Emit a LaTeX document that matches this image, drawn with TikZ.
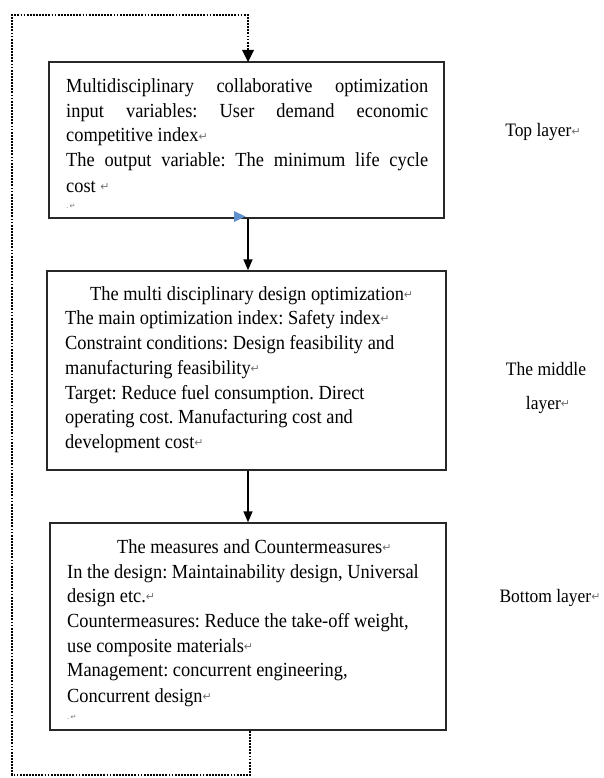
\documentclass[tikz,border=0pt]{standalone}
\usepackage{fontspec}
\setmainfont{Liberation Serif}[FakeStretch=0.92]
\newfontfamily\symfont{DejaVu Sans}
\usetikzlibrary{arrows.meta}
\definecolor{boxline}{RGB}{40,40,40}
\definecolor{tipblue}{RGB}{95,145,205}
\newcommand\retm{{\symfont\fontsize{11}{11}\selectfont\color[gray]{0.45}\raisebox{1.5pt}{↵}}}
\newcommand\tinyret{{\symfont\fontsize{7}{7}\selectfont\color[gray]{0.45}.\,↵}}
\frenchspacing
\begin{document}
\begin{tikzpicture}[x=1pt,y=-1pt,
  box/.style={draw=boxline,line width=1.4pt,rectangle,inner sep=0pt},
  txt/.style={anchor=base west,inner sep=0pt,font=\fontsize{20}{24}\selectfont\frenchspacing},
  lbl/.style={anchor=base,inner sep=0pt,font=\fontsize{19}{23}\selectfont},
  arr/.style={line width=1.6pt,-{Triangle[width=9pt,length=11pt]}},
  loop/.style={line width=2.2pt,dash pattern=on 1.8pt off 1.3pt}]
\useasboundingbox (0,0) rectangle (604,778);
% boxes
\node[box,minimum width=395pt,minimum height=156pt] (b1) at (246.5,140) {};
\node[box,minimum width=399pt,minimum height=199pt] (b2) at (246.5,370.5) {};
\node[box,minimum width=396pt,minimum height=207pt] (b3) at (248,626.5) {};
% box 1 text
\node[txt] (t11) at (66,93) {\makebox[362pt][s]{Multidisciplinary collaborative optimization}};
\node[txt] (t12) at (66,118) {\makebox[362pt][s]{input variables: User demand economic}};
\node[txt] (t13) at (66,142) {competitive index\retm};
\node[txt] (t14) at (66,167) {\makebox[362pt][s]{The output variable: The minimum life cycle}};
\node[txt] (t15) at (66,192) {cost \retm};
\node[txt] (t16) at (66,208) {\tinyret};
% box 2 text
\node[txt] (t21) at (90,300) {The multi disciplinary design optimization\retm};
\node[txt] (t22) at (65,324) {The main optimization index: Safety index\retm};
\node[txt] (t23) at (65,349) {Constraint conditions: Design feasibility and};
\node[txt] (t24) at (65,374) {manufacturing feasibility\retm};
\node[txt] (t25) at (65,399) {Target: Reduce fuel consumption. Direct};
\node[txt] (t26) at (65,423) {operating cost. Manufacturing cost and};
\node[txt] (t27) at (65,448) {development cost\retm};
% box 3 text
\node[txt] (t31) at (117,553) {The measures and Countermeasures\retm};
\node[txt] (t32) at (67,578) {In the design: Maintainability design, Universal};
\node[txt] (t33) at (67,602) {design etc.\retm};
\node[txt] (t34) at (67,627) {Countermeasures: Reduce the take-off weight,};
\node[txt] (t35) at (67,652) {use composite materials\retm};
\node[txt] (t36) at (67,676) {Management: concurrent engineering,};
\node[txt] (t37) at (67,702) {Concurrent design\retm};
\node[txt] (t38) at (67,719) {\tinyret};
% layer labels
\node[lbl] (l1) at (543,137) {Top layer\retm};
\node[lbl] (l2) at (546,375) {The middle};
\node[lbl] (l3) at (548,409) {layer\retm};
\node[lbl] (l4) at (550,602) {Bottom layer\retm};
% connectors
\coordinate (a1s) at (248,218);
\draw[arr] (b1.south -| a1s) -- (b2.north -| a1s);
\draw[arr] (b2.south -| a1s) -- (b3.north -| a1s);
\fill[tipblue] (234,211) -- (245.5,216.5) -- (234,222) -- cycle;
% dotted feedback loop
\coordinate (lb) at (250,775);
\coordinate (ll) at (12,775);
\coordinate (lt) at (12,15);
\coordinate (lr) at (248,15);
\draw[loop] (b3.south -| lb) -- (lb) -- (ll) -- (lt) -- (lr) -- ++(0,36);
\fill (242,50) -- (254,50) -- (248,62) -- cycle;
\end{tikzpicture}
\end{document}
